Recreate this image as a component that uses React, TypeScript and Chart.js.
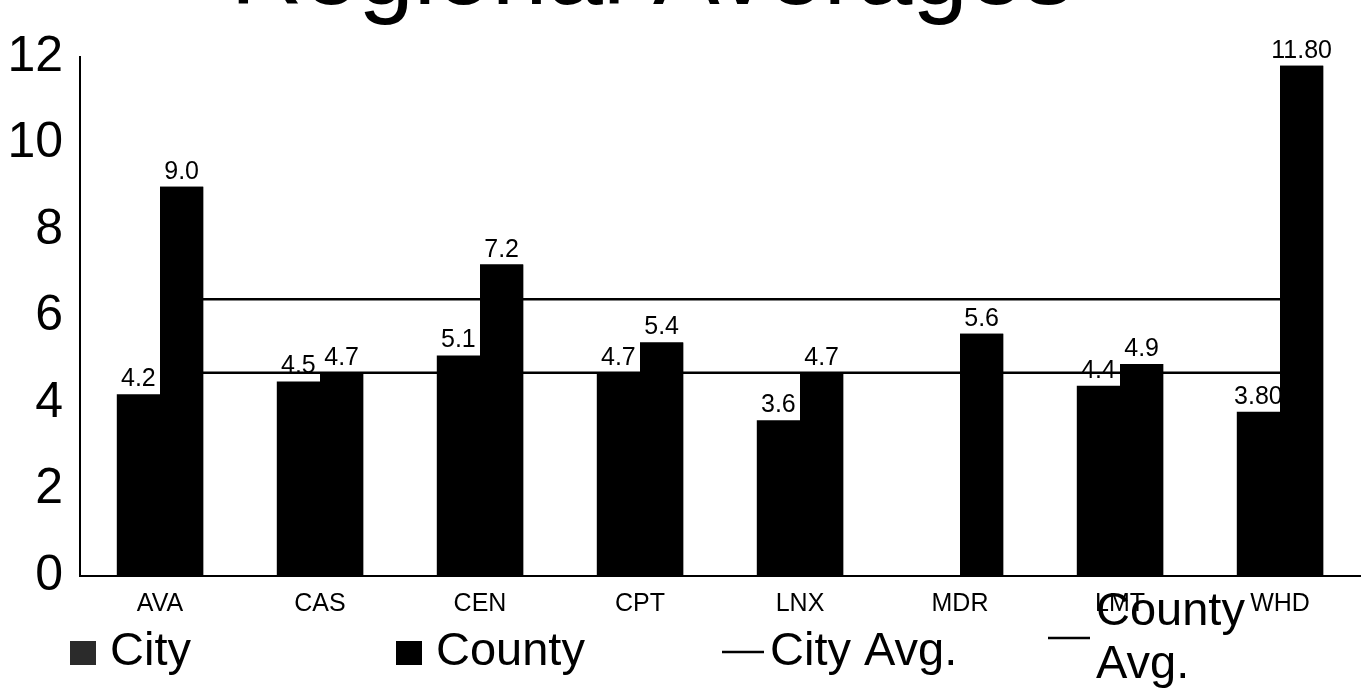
import React, { useEffect, useRef } from "react";
import { Chart, registerables } from "chart.js";

Chart.register(...registerables);

const titleText = "Regional Averages";
const categories = ["AVA", "CAS", "CEN", "CPT", "LNX", "MDR", "LMT", "WHD"];
const cityValues: (number | null)[] = [4.2, 4.5, 5.1, 4.7, 3.6, null, 4.4, 3.8];
const countyValues: number[] = [9.0, 4.7, 7.2, 5.4, 4.7, 5.6, 4.9, 11.8];
const cityValueLabels = ["4.2", "4.5", "5.1", "4.7", "3.6", "", "4.4", "3.80"];
const countyValueLabels = ["9.0", "4.7", "7.2", "5.4", "4.7", "5.6", "4.9", "11.80"];
const cityAvg = 4.7;
const countyAvg = 6.4;
const yTicks = [0, 2, 4, 6, 8, 10, 12];
const seriesNames = ["City", "County", "City Avg.", "County Avg."];

const FONT = '"Liberation Sans", Arial, Helvetica, sans-serif';

const titlePlugin = {
  id: "cutTitle",
  afterDraw(chart: any) {
    const ctx = chart.ctx;
    ctx.save();
    ctx.font = `100px ${FONT}`;
    ctx.fillStyle = "#000";
    ctx.textAlign = "center";
    ctx.textBaseline = "alphabetic";
    ctx.fillText(titleText, 652, 4);
    ctx.restore();
  },
};

function drawLabels(chart: any, dsIndex: number) {
  const ds = chart.data.datasets[dsIndex];
  const labels: string[] | undefined = ds.valueLabels;
  if (!labels) return;
  const meta = chart.getDatasetMeta(dsIndex);
  const ctx = chart.ctx;
  ctx.save();
  ctx.font = `25px ${FONT}`;
  ctx.fillStyle = "#000";
  ctx.textAlign = "center";
  ctx.textBaseline = "alphabetic";
  meta.data.forEach((el: any, i: number) => {
    const t = labels[i];
    if (!t || ds.data[i] == null) return;
    ctx.fillText(t, el.x, el.y - 8);
  });
  ctx.restore();
}

// City labels first, then the county bars are painted again over them
// (as in the reference, where the WHD county bar hides part of "3.80").
const valueLabelPlugin = {
  id: "valueLabels",
  afterDatasetsDraw(chart: any) {
    drawLabels(chart, 0);
    const area = chart.chartArea;
    const ctx = chart.ctx;
    ctx.save();
    ctx.beginPath();
    ctx.rect(area.left, area.top - 30, area.right - area.left, area.bottom - area.top + 30);
    ctx.clip();
    chart.getDatasetMeta(1).controller.draw();
    ctx.restore();
    drawLabels(chart, 1);
  },
};

const legendPlugin = {
  id: "slotLegend",
  afterDraw(chart: any) {
    const ctx = chart.ctx;
    const fontSize = 47;
    const startX = 70;
    const slotW = 326;
    const rowCenter = 650;
    const lineH = 53;
    const maxTextW = 230;
    ctx.save();
    ctx.font = `${fontSize}px ${FONT}`;
    ctx.fillStyle = "#000";
    ctx.textAlign = "left";
    ctx.textBaseline = "alphabetic";
    chart.data.datasets.forEach((ds: any, i: number) => {
      const x0 = startX + i * slotW;
      const isLine = ds.type === "line";
      const markerW = isLine ? 42 : 27;
      const gap = isLine ? 6 : 13;
      const tx = x0 + markerW + gap;
      const words = String(ds.label).split(" ");
      const lines: string[] = [];
      let cur = "";
      words.forEach((w) => {
        const test = cur ? cur + " " + w : w;
        if (cur && ctx.measureText(test).width > maxTextW) {
          lines.push(cur);
          cur = w;
        } else cur = test;
      });
      if (cur) lines.push(cur);
      const n = lines.length;
      const cy = rowCenter - (n - 1) * 14;
      const firstBase = cy + 15 - ((n - 1) * lineH) / 2;
      lines.forEach((l, k) => ctx.fillText(l, tx, firstBase + k * lineH));
      if (isLine) {
        ctx.strokeStyle = ds.borderColor;
        ctx.lineWidth = 2.5;
        ctx.beginPath();
        ctx.moveTo(x0, cy + 2);
        ctx.lineTo(x0 + markerW, cy + 2);
        ctx.stroke();
      } else {
        ctx.fillStyle = ds.legendColor || ds.backgroundColor;
        ctx.fillRect(x0, firstBase - 24, 26, 24);
        ctx.fillStyle = "#000";
      }
    });
    ctx.restore();
  },
};

export default function App() {
  const ref = useRef<HTMLCanvasElement | null>(null);

  useEffect(() => {
    if (!ref.current) return;
    const chart = new Chart(ref.current, {
      type: "bar",
      data: {
        labels: categories,
        datasets: [
          {
            type: "bar",
            label: seriesNames[0],
            data: cityValues,
            backgroundColor: "#000",
            legendColor: "#2b2b2b",
            valueLabels: cityValueLabels,
            order: 1,
          } as any,
          {
            type: "bar",
            label: seriesNames[1],
            data: countyValues,
            backgroundColor: "#000",
            valueLabels: countyValueLabels,
            order: 2,
          } as any,
          {
            type: "line",
            label: seriesNames[2],
            data: categories.map(() => cityAvg),
            borderColor: "#000",
            borderWidth: 2.5,
            pointRadius: 0,
            fill: false,
            order: 3,
          } as any,
          {
            type: "line",
            label: seriesNames[3],
            data: categories.map(() => countyAvg),
            borderColor: "#000",
            borderWidth: 2.5,
            pointRadius: 0,
            fill: false,
            order: 3,
          } as any,
        ],
      },
      options: {
        responsive: false,
        animation: false,
        devicePixelRatio: 1,
        layout: { padding: { top: 57, right: 11, bottom: 72, left: 0 } },
        datasets: {
          bar: { barPercentage: 1, categoryPercentage: 0.54 },
        },
        plugins: {
          legend: { display: false },
          title: { display: false },
          tooltip: { enabled: false },
        },
        scales: {
          x: {
            grid: { display: false, drawTicks: false },
            border: { display: true, color: "#000", width: 2 },
            ticks: {
              color: "#000",
              font: { size: 25, family: FONT },
              padding: 13,
              maxRotation: 0,
              autoSkip: false,
            },
            afterFit: (s: any) => {
              s.height = 42;
            },
          },
          y: {
            min: 0,
            max: 12,
            grid: { display: false, drawTicks: false },
            border: { display: true, color: "#000", width: 2 },
            ticks: {
              color: "#000",
              font: { size: 50, family: FONT },
              padding: 17,
            },
            afterBuildTicks: (s: any) => {
              s.ticks = yTicks.map((v) => ({ value: v }));
            },
            afterFit: (s: any) => {
              s.width = 80;
            },
          },
        },
      } as any,
      plugins: [valueLabelPlugin, legendPlugin, titlePlugin],
    });
    return () => chart.destroy();
  }, []);

  return (
    <div style={{ position: "absolute", left: 0, top: 0, width: 1371, height: 690, background: "#fff" }}>
      <canvas ref={ref} width={1371} height={690} style={{ display: "block" }} />
    </div>
  );
}
